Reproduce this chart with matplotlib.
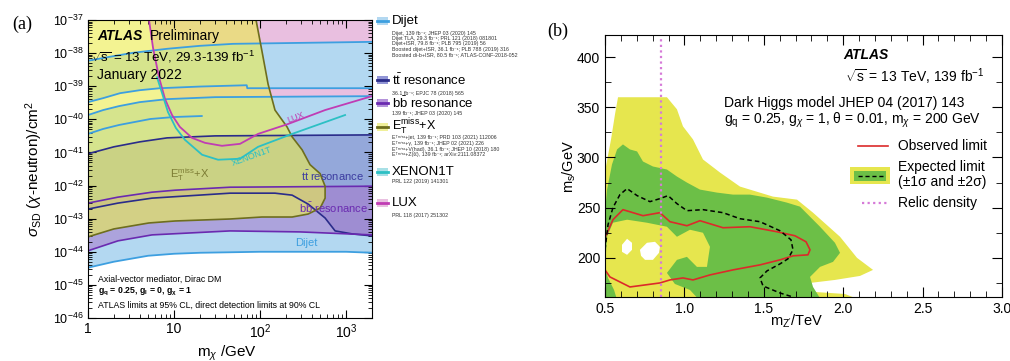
import numpy as np
import matplotlib
matplotlib.use('Agg')
import matplotlib.pyplot as plt
from matplotlib.patches import Rectangle
from matplotlib.ticker import LogLocator, MultipleLocator, NullFormatter

plt.rcParams['font.family'] = ['Liberation Sans', 'DejaVu Sans']
plt.rcParams['mathtext.fontset'] = 'custom'
plt.rcParams['mathtext.rm'] = 'Liberation Sans'
plt.rcParams['mathtext.it'] = 'Liberation Sans:italic'
plt.rcParams['mathtext.bf'] = 'Liberation Sans:bold'

# ---------------- panel (a) data: m_chi [GeV], log10(sigma_SD / cm^2)
dijet1_m = [1, 1.8, 3.34, 8.3, 20, 48.5, 2000]
dijet1_s = [-38.23, -38.11, -37.99, -37.87, -37.78, -37.72, -37.66]
dijet2_m = [1, 1.5, 2.36, 4, 6.87, 20, 70, 71, 2000]
dijet2_s = [-39.48, -39.36, -39.21, -39.12, -39.06, -39.01, -38.97, -39.06, -39.06]
dijet3_m = [1, 1.5, 2.3, 4, 8.3, 30, 2000]
dijet3_s = [-39.87, -39.72, -39.60, -39.48, -39.39, -39.33, -39.30]
dijet4_m = [1, 1.5, 2.3, 5.3, 10, 21]
dijet4_s = [-40.44, -40.29, -40.17, -39.99, -39.93, -39.90]
dijet_low_m = [1, 2, 5, 10, 20, 100, 1000, 2000]
dijet_low_s = [-44.48, -44.30, -44.12, -44.06, -44.03, -44.00, -44.00, -44.03]

tt_top_m = [1, 2, 4, 8.3, 30, 2000]
tt_top_s = [-41.04, -40.83, -40.68, -40.56, -40.50, -40.47]
tt_low_m = [1, 2.23, 5.55, 44.8, 149, 236, 362, 570, 745, 1175, 2000]
tt_low_s = [-42.71, -42.53, -42.38, -42.23, -42.23, -42.29, -42.56, -42.98, -43.37, -43.46, -43.52]

bb_top_m = [1, 2.23, 5.55, 10.3, 44.8, 2000]
bb_top_s = [-42.53, -42.35, -42.20, -42.14, -42.05, -42.02]
bb_low_m = [1, 2.23, 5.55, 44.8, 292, 2000]
bb_low_s = [-43.97, -43.67, -43.49, -43.37, -43.40, -43.49]

met_m = [1, 89.8, 105, 124, 149, 206, 236, 308, 381, 499, 570, 570, 499, 362, 236, 105, 44.8, 10.3, 5.1, 2, 1]
met_s = [-37.0, -37.0, -37.93, -38.94, -39.72, -40.23, -40.53, -40.92, -41.37, -41.64, -42.02,
         -42.38, -42.68, -42.86, -42.95, -42.95, -43.01, -43.07, -43.13, -43.31, -43.55]

lux_m = [5.12, 5.7, 6.69, 7.86, 9.48, 11.7, 16.2, 22.9, 36.1, 58.5, 94.8, 212, 570, 2000]
lux_s = [-37.0, -37.84, -38.73, -39.39, -39.87, -40.23, -40.56, -40.71, -40.80, -40.74, -40.44, -40.14, -39.72, -39.30]
xenon_m = [6.34, 7.2, 8.5, 10.5, 13.4, 21.2, 32.5, 58.5, 94.8, 236, 973]
xenon_s = [-38.73, -39.18, -39.78, -40.26, -40.62, -41.07, -41.22, -41.19, -40.83, -40.44, -39.87]

legend_names = ['Dijet', r'$\mathrm{t\bar{t}}$ resonance', r'$\mathrm{b\bar{b}}$ resonance',
                r'$\mathrm{E_T^{miss}}$+X', 'XENON1T', 'LUX']
legend_refs = [
    ['Dijet, 139 fb⁻¹; JHEP 03 (2020) 145',
     'Dijet TLA, 29.3 fb⁻¹; PRL 121 (2018) 081801',
     'Dijet+ISR, 79.8 fb⁻¹; PLB 795 (2019) 56',
     'Boosted dijet+ISR, 36.1 fb⁻¹; PLB 788 (2019) 316',
     'Boosted di-b+ISR, 80.5 fb⁻¹; ATLAS-CONF-2018-052'],
    ['36.1 fb⁻¹; EPJC 78 (2018) 565'],
    ['139 fb⁻¹; JHEP 03 (2020) 145'],
    ['Eᵀᵐⁱˢˢ+jet, 139 fb⁻¹; PRD 103 (2021) 112006',
     'Eᵀᵐⁱˢˢ+γ, 139 fb⁻¹; JHEP 02 (2021) 226',
     'Eᵀᵐⁱˢˢ+V(had), 36.1 fb⁻¹; JHEP 10 (2018) 180',
     'Eᵀᵐⁱˢˢ+Z(ℓℓ), 139 fb⁻¹; arXiv:2111.08372'],
    ['PRL 122 (2019) 141301'],
    ['PRL 118 (2017) 251302'],
]

# ---------------- panel (b) data: m_Z' [TeV], m_s [GeV]
band2_m = [0.5, 0.538, 0.563, 0.582, 0.890, 0.953, 0.991, 1.054, 1.117, 1.224, 1.350, 1.558, 1.709,
           1.810, 1.980, 2.087, 2.188, 2.106, 1.948, 1.791, 1.759, 1.822, 2.011, 2.156, 0.5]
band2_ms = [286, 318, 343, 360, 360, 348, 331, 318, 298, 285, 271, 261, 258,
            245, 221, 200, 188, 182, 178, 175, 170, 166, 164, 155, 155]
band1_m = [0.5, 0.513, 0.544, 0.576, 0.613, 0.657, 0.702, 0.739, 0.802, 0.890, 0.953, 1.016, 1.098,
           1.205, 1.306, 1.413, 1.520, 1.646, 1.728, 1.854, 1.948, 1.980, 1.936, 1.854, 1.791, 1.810, 1.873, 0.5]
band1_ms = [245, 268, 293, 308, 313, 308, 306, 296, 291, 288, 281, 275, 268,
            265, 263, 263, 260, 255, 251, 231, 215, 205, 196, 191, 181, 171, 155, 155]
island_m = [0.513, 0.550, 0.639, 0.764, 0.890, 0.953, 1.035, 1.117, 1.161, 1.142, 1.079, 1.016,
            0.953, 0.890, 0.940, 1.035, 1.111, 0.582, 0.557, 0.519, 0.5]
island_ms = [221, 235, 238, 235, 231, 221, 228, 225, 211, 191, 191, 201,
             198, 185, 174, 168, 155, 155, 168, 180, 191]
hole1_m = [0.607, 0.639, 0.670, 0.670, 0.639, 0.607]
hole1_ms = [213, 219, 215, 208, 203, 206]
hole2_m = [0.720, 0.764, 0.815, 0.846, 0.840, 0.802, 0.752, 0.727]
hole2_ms = [208, 215, 216, 211, 205, 198, 198, 202]
obs_m = [0.5, 0.550, 0.613, 0.739, 0.846, 0.909, 1.016, 1.098, 1.243, 1.413, 1.583, 1.696, 1.766, 1.791,
         1.778, 1.684, 1.602, 1.476, 1.306, 1.161, 1.054, 0.991, 0.909, 0.846, 0.657, 0.531, 0.5]
obs_ms = [220, 238, 248, 242, 245, 236, 232, 237, 230, 231, 226, 222, 216, 208,
          203, 202, 198, 193, 188, 183, 178, 180, 178, 175, 171, 181, 188]
exp_m = [0.5, 0.519, 0.550, 0.594, 0.639, 0.702, 0.783, 0.846, 0.897, 0.953, 1.016, 1.117, 1.243, 1.350,
         1.476, 1.602, 1.671, 1.684, 1.652, 1.602, 1.520, 1.476, 1.495, 1.602, 1.684]
exp_ms = [208, 233, 250, 263, 269, 262, 256, 259, 262, 254, 247, 248, 245, 239,
          236, 227, 218, 208, 199, 194, 187, 180, 172, 165, 161]
relic_m = 0.85

# colours
c_dj, c_dj_l = '#b3d8f1', '#3d9fe0'
c_lux, c_lux_l = '#e9bfe0', '#c03cb4'
c_tt, c_tt_l = '#8088cc', '#2a2c8a'
c_bb, c_bb_l = '#a878cc', '#6a2ab0'
c_met, c_met_l = '#ecec50', '#6e6e1e'
c_xe, c_xe_l = '#a8e0e6', '#2cc0c4'
yellow, green = '#e6e64e', '#6cbf47'

fig = plt.figure(figsize=(10.1, 3.61), dpi=100)

# ================= panel (a)
ax1 = fig.add_axes([88/1010, 1 - 318/361, 284/1010, 298/361])
ax1.set_xscale('log')
ax1.set_yscale('log')
ax1.set_xlim(1, 2000)
ax1.set_ylim(1e-46, 1e-37)

def p(v):
    return 10.0 ** np.asarray(v)

lux_fill_m = lux_m + [2000, 5.12]
lux_fill_s = lux_s + [-37, -37]
ax1.fill(lux_fill_m, p(lux_fill_s), color=c_lux, lw=0)
ax1.fill(dijet1_m + dijet2_m[::-1], p(dijet1_s + dijet2_s[::-1]), color=c_dj, lw=0)
ax1.fill(dijet3_m + dijet_low_m[::-1], p(dijet3_s + dijet_low_s[::-1]), color=c_dj, lw=0)
ax1.fill(tt_top_m + tt_low_m[::-1], p(tt_top_s + tt_low_s[::-1]), color=c_tt, alpha=0.6, lw=0)
ax1.fill(bb_top_m + bb_low_m[::-1], p(bb_top_s + bb_low_s[::-1]), color=c_bb, alpha=0.55, lw=0)
ax1.fill(met_m, p(met_s), color=c_met, alpha=0.62, lw=0)

for mm, ss in [(dijet1_m, dijet1_s), (dijet2_m, dijet2_s), (dijet3_m, dijet3_s),
               (dijet4_m, dijet4_s), (dijet_low_m, dijet_low_s)]:
    ax1.plot(mm, p(ss), color=c_dj_l, lw=1.3)
ax1.plot(tt_top_m, p(tt_top_s), color=c_tt_l, lw=1.2)
ax1.plot(tt_low_m, p(tt_low_s), color=c_tt_l, lw=1.2)
ax1.plot(bb_top_m, p(bb_top_s), color=c_bb_l, lw=1.2)
ax1.plot(bb_low_m, p(bb_low_s), color=c_bb_l, lw=1.2)
ax1.plot(met_m[1:], p(met_s[1:]), color=c_met_l, lw=1.2)
ax1.plot(lux_m, p(lux_s), color=c_lux_l, lw=1.3)
ax1.plot(xenon_m, p(xenon_s), color=c_xe_l, lw=1.3)

ax1.text(262, 10**-39.93, 'LUX', color=c_lux_l, fontsize=6.5, rotation=21, ha='center', va='center')
ax1.text(80.7, 10**-41.13, 'XENON1T', color=c_xe_l, fontsize=6.5, rotation=20, ha='center', va='center')
ax1.text(15.4, 10**-41.67, r'$\mathrm{E_T^{miss}}$+X', color='#7c7c34', fontsize=8, ha='center', va='center')
ax1.text(1600, 10**-41.72, r'$\mathrm{t\bar{t}}$ resonance', color='#3c3ca0', fontsize=8, ha='right', va='center')
ax1.text(1800, 10**-42.68, r'$\mathrm{b\bar{b}}$ resonance', color='#6a2ab0', fontsize=8, ha='right', va='center')
ax1.text(343, 10**-43.73, 'Dijet', color=c_dj_l, fontsize=8, ha='center', va='center')

ax1.text(0.032, 0.945, 'ATLAS', transform=ax1.transAxes, fontsize=10, fontweight='bold', style='italic', va='center')
ax1.text(0.218, 0.945, 'Preliminary', transform=ax1.transAxes, fontsize=10, va='center')
ax1.text(0.012, 0.875, r'$\sqrt{\mathrm{s}}$ = 13 TeV, 29.3-139 fb$^{-1}$', transform=ax1.transAxes, fontsize=9.6, va='center')
ax1.text(0.032, 0.816, 'January 2022', transform=ax1.transAxes, fontsize=10, va='center')
ax1.text(0.035, 0.130, 'Axial-vector mediator, Dirac DM', transform=ax1.transAxes, fontsize=6.3, va='center')
ax1.text(0.035, 0.086, r'g$_\mathbf{q}$ = 0.25, g$_\mathbf{l}$ = 0, g$_\mathbf{\chi}$ = 1', transform=ax1.transAxes,
         fontsize=6.3, fontweight='bold', va='center')
ax1.text(0.035, 0.043, 'ATLAS limits at 95% CL, direct detection limits at 90% CL', transform=ax1.transAxes,
         fontsize=6.3, va='center')

ax1.yaxis.set_major_locator(LogLocator(base=10, numticks=20))
ax1.yaxis.set_minor_locator(LogLocator(base=10, subs=np.arange(2, 10), numticks=20))
ax1.yaxis.set_minor_formatter(NullFormatter())
ax1.set_xticks([1, 10, 100, 1000])
ax1.set_xticklabels(['1', '10', r'$10^2$', r'$10^3$'])
ax1.xaxis.set_minor_locator(LogLocator(base=10, subs=np.arange(2, 10), numticks=20))
ax1.xaxis.set_minor_formatter(NullFormatter())
ax1.tick_params(which='both', direction='in', top=True, right=True, labelsize=10)
ax1.tick_params(axis='y', labelsize=9)
ax1.tick_params(which='major', length=6, width=0.8, pad=3)
ax1.tick_params(which='minor', length=3, width=0.6)
ax1.set_ylabel(r'$\sigma_{\mathrm{SD}}$ ($\chi$-neutron)/cm$^2$', fontsize=11)
ax1.yaxis.set_label_coords(-0.150, 0.5)
ax1.set_xlabel(r'm$_\chi$ /GeV', fontsize=11)
ax1.xaxis.set_label_coords(0.49, -0.085)

fig.text(12/1010, 1 - 24/361, '(a)', family=['Liberation Serif', 'DejaVu Serif'], fontsize=13, va='center')

# legend of panel (a)
lax = fig.add_axes([375/1010, 0, 160/1010, 1])
lax.set_xlim(0, 160)
lax.set_ylim(361, 0)
lax.axis('off')
leg_fill = [c_dj, '#9296d6', '#b492da', '#f0f09a', c_xe, c_lux]
leg_line = [c_dj_l, c_tt_l, c_bb_l, c_met_l, c_xe_l, c_lux_l]
leg_y = [21, 80, 103, 127, 172, 203]
leg_name_size = [9.5, 9.5, 9.5, 9, 9.5, 9.5]
leg_ref_y = [[33, 38.5, 44, 49.5, 55], [93], [113.5], [138, 143.5, 149, 154.5], [182], [216]]
for name, refs, fc, lc, y0, fs, ry in zip(legend_names, legend_refs, leg_fill, leg_line,
                                          leg_y, leg_name_size, leg_ref_y):
    lax.add_patch(Rectangle((2, y0 - 4), 11, 8, fc=fc, ec='none'))
    lax.plot([2, 13], [y0, y0], color=lc, lw=2)
    lax.text(17, y0, name, fontsize=fs, va='center')
    for r, yy in zip(refs, ry):
        lax.text(17, yy, r, fontsize=3.8, va='center', color='#333333')

# ================= panel (b)
ax2 = fig.add_axes([605/1010, 1 - 297/361, 397/1010, 262/361])
ax2.fill(band2_m, band2_ms, color=yellow, lw=0)
ax2.fill(band1_m, band1_ms, color=green, lw=0)
ax2.fill(island_m, island_ms, color=yellow, lw=0)
ax2.fill(hole1_m, hole1_ms, color='white', lw=0)
ax2.fill(hole2_m, hole2_ms, color='white', lw=0)
ax2.plot(obs_m, obs_ms, color='#dc2a2a', lw=1.2)
ax2.plot(exp_m, exp_ms, color='black', lw=1.1, ls=(0, (3, 2)))
ax2.axvline(relic_m, color='#d67ad8', ls=(0, (1, 1.5)), lw=1.6)
ax2.set_xlim(0.5, 3.0)
ax2.set_ylim(161, 422)
ax2.xaxis.set_major_locator(MultipleLocator(0.5))
ax2.xaxis.set_minor_locator(MultipleLocator(0.1))
ax2.yaxis.set_major_locator(MultipleLocator(50))
ax2.yaxis.set_minor_locator(MultipleLocator(25))
ax2.xaxis.set_major_formatter(plt.FuncFormatter(lambda v, _: '%.1f' % v))
ax2.tick_params(which='both', direction='in', top=True, right=True, labelsize=10)
ax2.tick_params(which='major', length=7, width=0.8)
ax2.tick_params(which='minor', length=4, width=0.6)
ax2.set_ylabel(r'm$_\mathrm{s}$/GeV', fontsize=10.5)
ax2.yaxis.set_label_coords(-0.068, 0.5)
ax2.set_xlabel(r"m$_{\mathrm{Z}'}$/TeV", fontsize=10.5)
ax2.xaxis.set_label_coords(0.484, -0.06)

ax2.text(0.600, 0.924, 'ATLAS', transform=ax2.transAxes, fontsize=10, fontweight='bold', style='italic', va='center')
ax2.text(0.605, 0.840, r'$\sqrt{\mathrm{s}}$ = 13 TeV, 139 fb$^{-1}$', transform=ax2.transAxes, fontsize=10, va='center')
ax2.text(0.300, 0.740, 'Dark Higgs model JHEP 04 (2017) 143', transform=ax2.transAxes, fontsize=10, va='center')
ax2.text(0.300, 0.676, r'g$_\mathrm{q}$ = 0.25, g$_\chi$ = 1, θ = 0.01, m$_\chi$ = 200 GeV',
         transform=ax2.transAxes, fontsize=10, va='center')
ax2.plot([0.637, 0.713], [0.576, 0.576], color='#dc2a2a', lw=1.2, transform=ax2.transAxes)
ax2.text(0.738, 0.576, 'Observed limit', transform=ax2.transAxes, fontsize=10, va='center')
ax2.add_patch(Rectangle((0.617, 0.431), 0.101, 0.065, fc=yellow, ec='none', transform=ax2.transAxes))
ax2.add_patch(Rectangle((0.627, 0.443), 0.081, 0.038, fc=green, ec='none', transform=ax2.transAxes))
ax2.plot([0.637, 0.705], [0.462, 0.462], color='black', lw=1.0, ls=(0, (3, 2)), transform=ax2.transAxes)
ax2.text(0.738, 0.496, 'Expected limit', transform=ax2.transAxes, fontsize=10, va='center')
ax2.text(0.738, 0.439, '(±1σ and ±2σ)', transform=ax2.transAxes, fontsize=10, va='center')
ax2.plot([0.647, 0.713], [0.359, 0.359], color='#d67ad8', lw=1.6, ls=(0, (1, 1.5)), transform=ax2.transAxes)
ax2.text(0.738, 0.359, 'Relic density', transform=ax2.transAxes, fontsize=10, va='center')

fig.text(547/1010, 1 - 31/361, '(b)', family=['Liberation Serif', 'DejaVu Serif'], fontsize=13, va='center')

fig.savefig('out.png', dpi=100)
